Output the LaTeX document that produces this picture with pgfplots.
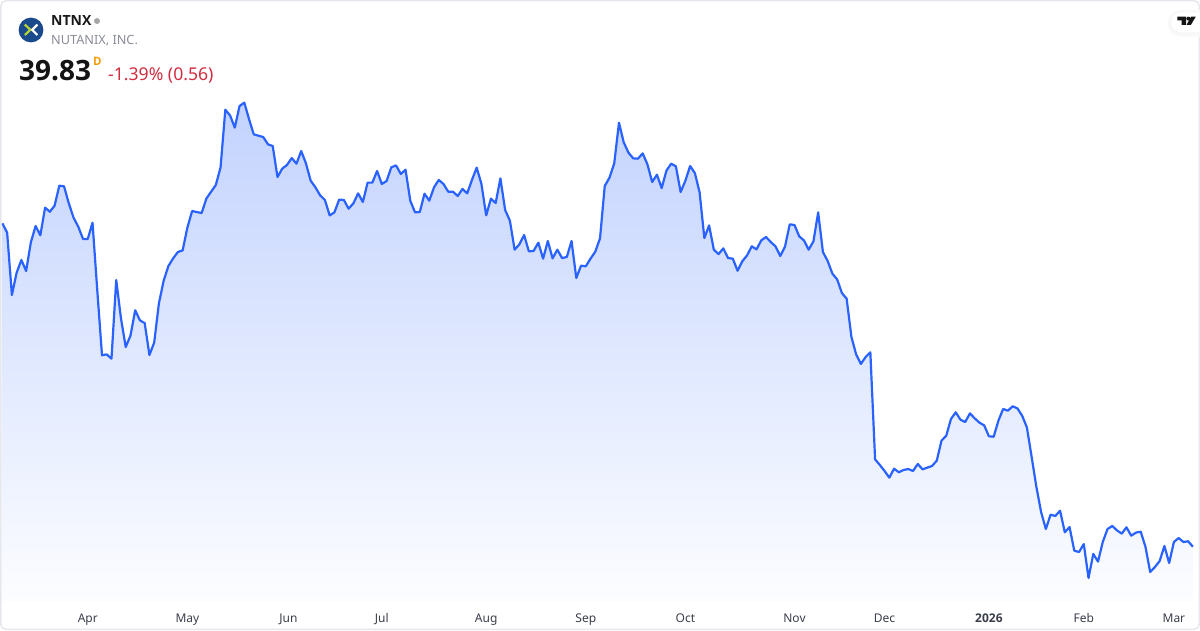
\documentclass[border=0pt]{standalone}
\usepackage{fontspec}
\setmainfont{Noto Sans}
\newfontfamily\heavy{Open Sans}
\usepackage{pgfplots}
\usepackage{pgfplotstable}
\pgfplotsset{compat=1.18}

\definecolor{tvblue}{HTML}{2962FF}
\definecolor{fillTop}{RGB}{195,211,254}
\definecolor{fillBottom}{RGB}{252,253,255}
\definecolor{cardline}{HTML}{E6E8EE}
\definecolor{ticktext}{HTML}{3A3E4A}
\definecolor{subtext}{HTML}{8A8D96}
\definecolor{downred}{HTML}{D12C3F}
\definecolor{flagorange}{HTML}{F59E0B}
\definecolor{logoblue}{HTML}{1B4A8C}
\definecolor{logogreen}{HTML}{B4D335}

% daily closes, one row per trading day
\pgfplotstableread{
day price
0 71.52
1 70.61
2 64.50
3 66.68
4 67.93
5 66.85
6 69.66
7 71.26
8 70.35
9 73.06
10 72.66
11 73.25
12 75.21
13 75.15
14 73.48
15 72.08
16 71.19
17 69.99
18 69.99
19 71.59
20 64.99
21 58.59
22 58.68
23 58.26
24 65.97
25 62.21
26 59.40
27 60.51
28 63.00
29 62.01
30 61.75
31 58.62
32 59.83
33 63.68
34 65.90
35 67.34
36 68.09
37 68.71
38 68.87
39 71.10
40 72.73
41 72.63
42 72.53
43 73.94
44 74.62
45 75.28
46 77.01
47 82.66
48 82.10
49 80.90
50 83.02
51 83.35
52 81.74
53 80.24
54 80.11
55 79.98
56 79.26
57 79.10
58 76.06
59 76.88
60 77.24
61 77.92
62 77.37
63 78.61
64 77.40
65 75.70
66 75.05
67 74.26
68 73.81
69 72.30
70 72.60
71 73.84
72 73.81
73 72.96
74 73.48
75 74.46
76 73.61
77 75.51
78 75.51
79 76.65
80 75.38
81 75.67
82 77.01
83 77.20
84 76.36
85 76.78
86 73.74
87 72.60
88 72.63
89 74.43
90 73.74
91 75.05
92 75.77
93 75.38
94 74.62
95 74.62
96 74.20
97 74.89
98 74.46
99 75.77
100 76.98
101 75.38
102 72.30
103 73.94
104 73.51
105 75.93
106 72.83
107 71.78
108 68.94
109 69.46
110 70.38
111 68.78
112 68.81
113 69.63
114 68.06
115 69.79
116 68.09
117 68.94
118 68.12
119 68.22
120 69.79
121 66.16
122 67.37
123 67.31
124 68.06
125 68.74
126 70.05
127 75.18
128 76.00
129 77.40
130 81.39
131 79.46
132 78.45
133 77.89
134 77.86
135 78.38
136 77.30
137 75.57
138 76.29
139 74.98
140 76.68
141 77.37
142 77.11
143 74.59
144 75.70
145 77.14
146 76.45
147 74.56
148 70.08
149 71.32
150 68.94
151 68.51
152 69.07
153 68.12
154 68.06
155 66.88
156 67.80
157 68.38
158 69.27
159 68.97
160 69.85
161 70.18
162 69.69
163 69.27
164 68.32
165 69.23
166 71.42
167 71.36
168 70.25
169 69.85
170 68.94
171 69.76
172 72.60
173 68.71
174 67.83
175 66.59
176 66.03
177 64.69
178 64.14
179 60.41
180 58.68
181 57.74
182 58.42
183 58.88
184 48.39
185 47.84
186 47.25
187 46.60
188 47.48
189 47.12
190 47.35
191 47.44
192 47.25
193 47.94
194 47.41
195 47.58
196 47.74
197 48.26
198 50.22
199 50.71
200 52.35
201 53.00
202 52.28
203 52.05
204 52.90
205 52.41
206 51.99
207 51.72
208 50.65
209 50.61
210 52.18
211 53.33
212 53.16
213 53.59
214 53.39
215 52.67
216 51.53
217 48.65
218 45.71
219 43.23
220 41.56
221 42.97
222 42.84
223 43.36
224 41.24
225 41.76
226 39.44
227 39.31
228 40.09
229 36.76
230 39.12
231 38.37
232 40.29
233 41.56
234 41.86
235 41.43
236 41.11
237 41.73
238 40.91
239 41.21
240 41.30
241 39.83
242 37.35
243 37.84
244 38.43
245 39.90
246 38.23
247 40.29
248 40.68
249 40.29
250 40.36
251 39.83
}\ntnxdata

\begin{document}
\begin{tikzpicture}[x=1pt,y=1pt]
\begin{axis}[
    at={(0pt,0pt)},
    anchor=south west,
    scale only axis,
    width=1200pt,
    height=602pt,
    xmin=-0.506, xmax=252.5,
    ymin=34.41, ymax=93.41,
    axis y line=none,
    axis x line*=bottom,
    x axis line style={draw=none},
    major tick length=0pt,
    xtick={18,39,60.3,80,102,123,144,167,186,208,228,247},
    xticklabels={Apr,May,Jun,Jul,Aug,Sep,Oct,Nov,Dec,{\heavy\bfseries 2026},Feb,Mar},
    xticklabel style={font=\fontsize{12}{14}\selectfont, text=ticktext, anchor=base, yshift=-20pt},
    clip=false,
]
\addplot[draw=none, top color=fillTop, bottom color=fillBottom, shading angle=0] table[x=day, y=price] {\ntnxdata} \closedcycle;
\addplot[tvblue, line width=2.2pt, line join=round, mark=none] table[x=day, y=price] {\ntnxdata};
\end{axis}

% header and card drawn in image pixels, y going down
\begin{scope}[x=1pt,y=-1pt,shift={(0pt,602pt)}]
\useasboundingbox (0,0) rectangle (1200,630);
\draw[cardline, line width=1.5pt, rounded corners=5pt] (0.75,0.75) rectangle (1199.25,629.25);

\fill[logoblue] (31,30) circle[radius=12.4];
\draw[logogreen, line width=2.2pt] (24.8,24.6) -- (30.4,29.8) -- (24.8,35);
\draw[white, line width=2.2pt] (37.4,24.6) -- (32.2,29.8) -- (37.4,35);

\node[anchor=base west, inner sep=0pt, font=\fontsize{14}{16}\selectfont\heavy\bfseries, text=black!90] at (51,26) {NTNX};
\fill[black!35] (97,21) circle[radius=3];
\node[anchor=base west, inner sep=0pt, font=\fontsize{12.7}{14}\selectfont, text=subtext] at (51,45) {NUTANIX, INC.};
\node[anchor=base west, inner sep=0pt, font=\fontsize{28}{30}\selectfont\heavy\bfseries, text=black!92] at (19,81) {39.83};
\node[anchor=base west, inner sep=0pt, font=\fontsize{11.5}{13}\selectfont\heavy\bfseries, text=flagorange] at (93,65.7) {D};
\node[anchor=base west, inner sep=0pt, font=\fontsize{17.6}{19}\selectfont, text=downred] at (108,81) {-1.39\% (0.56)};

% watermark
\fill[black!2] (1200,10) -- (1181,10) arc[start angle=270, end angle=90, radius=13.5] -- (1200,37) -- cycle;
\fill[black!3] (1200,11.5) -- (1181,11.5) arc[start angle=270, end angle=90, radius=11.5] -- (1200,34.5) -- cycle;
\fill[white] (1200,12.5) -- (1181,12.5) arc[start angle=270, end angle=90, radius=10] -- (1200,32.5) -- cycle;
\fill[black!92] (1177.3,16.6) -- (1186,16.6) -- (1186,25) -- (1181.5,25) -- (1181.5,20.4) -- (1177.3,20.4) -- cycle;
\fill[black!92] (1188.3,18.6) circle[radius=2];
\fill[black!92] (1191,16.6) -- (1195.8,16.6) -- (1190.8,25) -- (1186.5,25) -- cycle;
\end{scope}
\end{tikzpicture}
\end{document}
